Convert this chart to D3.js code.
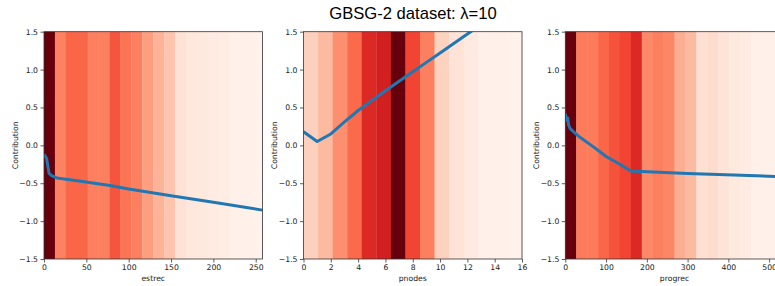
<!DOCTYPE html>
<html><head><meta charset="utf-8">
<script src="https://cdn.jsdelivr.net/npm/d3@7"></script>
<style>
html,body{margin:0;padding:0;background:#fff;overflow:hidden}
svg{display:block}
.tick text{font-family:"DejaVu Sans",sans-serif;font-size:7.7px;fill:#222}
</style></head>
<body>
<script>
// ---------- data ----------
const title = "GBSG-2 dataset: λ=10";
const yTicks = [-1.5, -1.0, -0.5, 0.0, 0.5, 1.0, 1.5];

// panel 1: estrec
const estrecX = [0, 3, 6, 9, 15, 35, 78, 100, 150, 200, 258];
const estrecY = [-0.12, -0.17, -0.37, -0.40, -0.43, -0.46, -0.53, -0.577, -0.665, -0.75, -0.855];
const estrecDensity = [1.0, 0.425, 0.51, 0.51, 0.434, 0.43, 0.555, 0.47, 0.43, 0.335, 0.275, 0.216, 0.113, 0.085, 0.07, 0.06, 0.05, 0.03, 0.03, 0.02];
const estrecTicks = [0, 50, 100, 150, 200, 250];
const estrecMax = 258;

// panel 2: pnodes
const pnodesX = [0, 1, 2, 3, 4, 5, 6, 7, 8, 9, 10, 11, 12, 13, 14, 15, 16];
const pnodesY = [0.18, 0.05, 0.15, 0.31, 0.46, 0.59, 0.72, 0.845, 0.97, 1.095, 1.22, 1.345, 1.47, 1.59, 1.71, 1.83, 1.95];
const pnodesDensity = [0.179, 0.25, 0.385, 0.5, 0.69, 0.725, 1.0, 0.60, 0.43, 0.17, 0.11, 0.065, 0.03, 0.03, 0.02];
const pnodesTicks = [0, 2, 4, 6, 8, 10, 12, 14, 16];
const pnodesMax = 16;

// panel 3: progrec
const progrecX = [0, 3, 6, 8, 12, 20, 36, 69, 101, 134, 160, 300, 536];
const progrecY = [0.42, 0.33, 0.36, 0.27, 0.22, 0.18, 0.106, -0.02, -0.15, -0.25, -0.34, -0.37, -0.415];
const progrecDensity = [1.0, 0.447, 0.447, 0.51, 0.56, 0.60, 0.69, 0.40, 0.434, 0.41, 0.29, 0.25, 0.125, 0.139, 0.10, 0.071, 0.06, 0.03, 0.03, 0.03];
const progrecTicks = [0, 100, 200, 300, 400, 500];
const progrecMax = 536;

const panels = [
  {name: "estrec", xs: estrecX, ys: estrecY, dens: estrecDensity, ticks: estrecTicks, max: estrecMax, left: 44},
  {name: "pnodes", xs: pnodesX, ys: pnodesY, dens: pnodesDensity, ticks: pnodesTicks, max: pnodesMax, left: 303.5},
  {name: "progrec", xs: progrecX, ys: progrecY, dens: progrecDensity, ticks: progrecTicks, max: progrecMax, left: 565.3}
];

// ---------- drawing ----------
const W = 775, H = 286;
const pw = 218.5, plotTop = 31.7, plotBottom = 259;
const redsStops = ['#fff5f0','#fee0d2','#fcbba1','#fc9272','#fb6a4a','#ef3b2c','#cb181d','#a50f15','#67000d'];
const reds = d3.scaleLinear().domain(d3.range(9).map(i => i / 8)).range(redsStops).interpolate(d3.interpolateRgb).clamp(true);

const svg = d3.select("body").append("svg").attr("width", W).attr("height", H);

svg.append("text").attr("x", 413).attr("y", 18.5).attr("text-anchor", "middle")
  .attr("font-family", "'Liberation Sans', Arial, sans-serif").attr("font-size", 16.6).attr("fill", "#000")
  .text(title);

const y = d3.scaleLinear().domain([-1.5, 1.5]).range([plotBottom, plotTop]);
const fmt = v => (v < 0 ? "\u2212" : "") + Math.abs(v).toFixed(1);

panels.forEach((p, i) => {
  const x = d3.scaleLinear().domain([0, p.max]).range([p.left, p.left + pw]);
  const g = svg.append("g");
  const n = p.dens.length;
  const bw = p.max / n;
  const clipId = "clip" + i;
  svg.append("clipPath").attr("id", clipId).append("rect")
    .attr("x", p.left).attr("y", plotTop).attr("width", pw).attr("height", plotBottom - plotTop);

  g.selectAll("rect.band").data(p.dens).enter().append("rect").attr("class", "band")
    .attr("x", (d, k) => x(k * bw))
    .attr("width", (d, k) => x((k + 1) * bw) - x(k * bw) + 0.3)
    .attr("y", plotTop).attr("height", plotBottom - plotTop)
    .attr("fill", d => reds(d));

  const line = d3.line().x((d, k) => x(p.xs[k])).y(d => y(d));
  g.append("path").datum(p.ys).attr("d", line).attr("fill", "none")
    .attr("stroke", "#1f77b4").attr("stroke-width", 3).attr("stroke-linejoin", "round")
    .attr("clip-path", `url(#${clipId})`);

  // frame
  g.append("rect").attr("x", p.left).attr("y", plotTop).attr("width", pw).attr("height", plotBottom - plotTop)
    .attr("fill", "none").attr("stroke", "#333").attr("stroke-width", 0.8);

  const xa = svg.append("g").attr("transform", `translate(0,${plotBottom})`)
    .call(d3.axisBottom(x).tickValues(p.ticks).tickSize(3.5).tickPadding(2.5).tickFormat(d3.format("d")));
  const ya = svg.append("g").attr("transform", `translate(${p.left},0)`)
    .call(d3.axisLeft(y).tickValues(yTicks).tickSize(3.5).tickPadding(2.5).tickFormat(fmt));
  [xa, ya].forEach(a => {
    a.select(".domain").remove();
    a.selectAll(".tick line").attr("stroke", "#333").attr("stroke-width", 0.8);
  });

  svg.append("text").attr("x", p.left + pw / 2).attr("y", 280.5).attr("text-anchor", "middle")
    .attr("font-family", "'DejaVu Sans', sans-serif").attr("font-size", 7.7).attr("fill", "#222").text(p.name);
  svg.append("text").attr("transform", `translate(${p.left - 26.5},${(plotTop + plotBottom) / 2}) rotate(-90)`)
    .attr("text-anchor", "middle")
    .attr("font-family", "'DejaVu Sans', sans-serif").attr("font-size", 7.7).attr("fill", "#222").text("Contribution");
});
</script>
</body></html>
